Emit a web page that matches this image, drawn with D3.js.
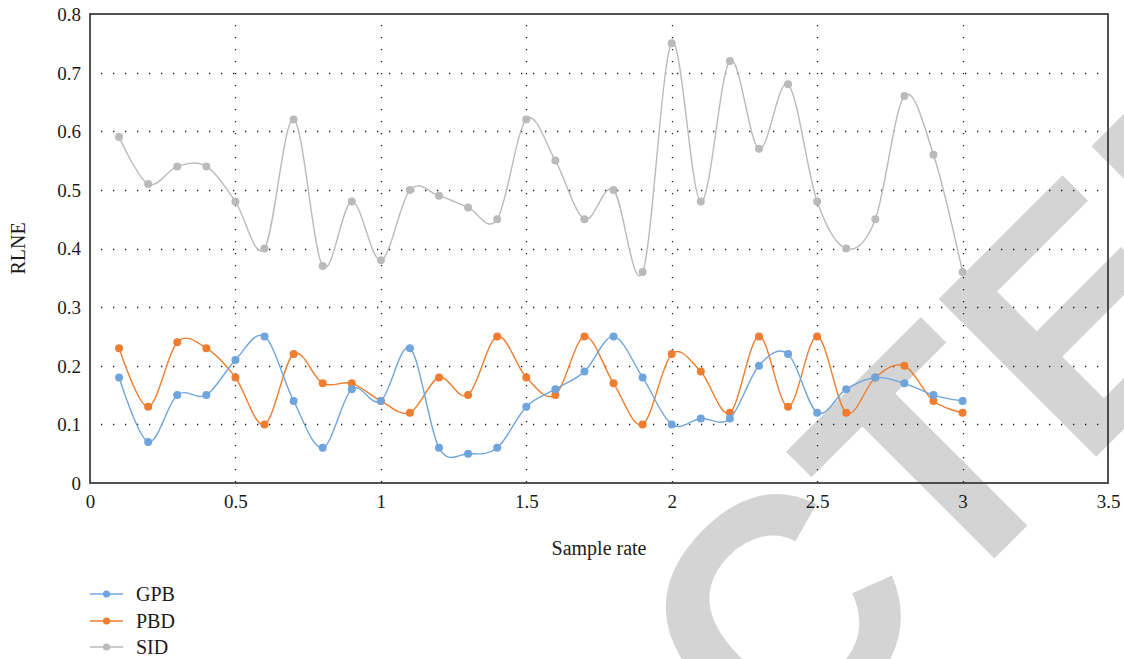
<!DOCTYPE html>
<html>
<head>
<meta charset="utf-8">
<script src="https://cdn.jsdelivr.net/npm/d3@7"></script>
<style>
  html, body { margin: 0; padding: 0; background: #fff; }
  svg { display: block; }
</style>
</head>
<body>
<svg id="chart" width="1124" height="659"></svg>
<script>
// Sample rates (x) and RLNE values for each method
const sampleRates = [0.1, 0.2, 0.3, 0.4, 0.5, 0.6, 0.7, 0.8, 0.9, 1.0,
                     1.1, 1.2, 1.3, 1.4, 1.5, 1.6, 1.7, 1.8, 1.9, 2.0,
                     2.1, 2.2, 2.3, 2.4, 2.5, 2.6, 2.7, 2.8, 2.9, 3.0];
const gpbValues = [0.18, 0.07, 0.15, 0.15, 0.21, 0.25, 0.14, 0.06, 0.16, 0.14,
                   0.23, 0.06, 0.05, 0.06, 0.13, 0.16, 0.19, 0.25, 0.18, 0.10,
                   0.11, 0.11, 0.20, 0.22, 0.12, 0.16, 0.18, 0.17, 0.15, 0.14];
const pbdValues = [0.23, 0.13, 0.24, 0.23, 0.18, 0.10, 0.22, 0.17, 0.17, 0.14,
                   0.12, 0.18, 0.15, 0.25, 0.18, 0.15, 0.25, 0.17, 0.10, 0.22,
                   0.19, 0.12, 0.25, 0.13, 0.25, 0.12, 0.18, 0.20, 0.14, 0.12];
const sidValues = [0.59, 0.51, 0.54, 0.54, 0.48, 0.40, 0.62, 0.37, 0.48, 0.38,
                   0.50, 0.49, 0.47, 0.45, 0.62, 0.55, 0.45, 0.50, 0.36, 0.75,
                   0.48, 0.72, 0.57, 0.68, 0.48, 0.40, 0.45, 0.66, 0.56, 0.36];
const seriesNames = ["GPB", "PBD", "SID"];
const xTicks = [0, 0.5, 1, 1.5, 2, 2.5, 3, 3.5];
const yTicks = [0, 0.1, 0.2, 0.3, 0.4, 0.5, 0.6, 0.7, 0.8];

const colors = { GPB: "#6fa5dc", PBD: "#ee7d2f", SID: "#bababa" };
const seriesValues = { GPB: gpbValues, PBD: pbdValues, SID: sidValues };

const svg = d3.select("#chart");
const W = 1124, H = 659;
const plot = { left: 90, right: 1108, top: 14, bottom: 483 };

const x = d3.scaleLinear().domain([0, 3.5]).range([plot.left, plot.right]);
const y = d3.scaleLinear().domain([0, 0.8]).range([plot.bottom, plot.top]);

svg.append("rect").attr("width", W).attr("height", H).attr("fill", "#fff");

// Diagonal "RETRACTED" stamp behind the chart
const stamp = svg.append("text")
  .attr("font-family", "'Liberation Sans', Arial, sans-serif")
  .attr("font-weight", "bold")
  .attr("font-size", 324)
  .attr("fill", "#d4d4d4")
  .text("RETRACTED");
const lead = stamp.node().getSubStringLength(0, 6);
stamp.attr("x", -lead).attr("transform", "translate(941,612) rotate(-45)");

const serif = "'Liberation Serif', 'Times New Roman', serif";

// Dotted grid
const grid = svg.append("g").attr("stroke", "#1a1a1a").attr("stroke-width", 1.3)
  .attr("stroke-dasharray", "1.3,10.7");
grid.selectAll("line.h").data(yTicks.filter(v => v > 0 && v < 0.8)).join("line")
  .attr("class", "h")
  .attr("x1", plot.left + 11).attr("x2", plot.right)
  .attr("y1", d => Math.round(y(d)) + 0.5).attr("y2", d => Math.round(y(d)) + 0.5);
grid.selectAll("line.v").data(xTicks.filter(v => v > 0 && v < 3.5)).join("line")
  .attr("class", "v")
  .attr("y1", plot.top + 11).attr("y2", plot.bottom)
  .attr("x1", d => Math.round(x(d)) + 0.5).attr("x2", d => Math.round(x(d)) + 0.5);

// Axes via d3 axis generators (lines hidden, labels kept)
const xAxis = svg.append("g")
  .attr("transform", `translate(0,${plot.bottom})`)
  .call(d3.axisBottom(x).tickValues(xTicks).tickSize(0).tickPadding(12)
        .tickFormat(d3.format("")));
const yAxis = svg.append("g")
  .attr("transform", `translate(${plot.left},0)`)
  .call(d3.axisLeft(y).tickValues(yTicks).tickSize(0).tickPadding(9)
        .tickFormat(d3.format("")));
[xAxis, yAxis].forEach(g => {
  g.select(".domain").remove();
  g.selectAll("text").attr("font-family", serif).attr("font-size", 19).attr("fill", "#1a1a1a");
});
yAxis.selectAll("text").attr("dy", "0.34em");

// Plot frame
svg.append("rect")
  .attr("x", plot.left).attr("y", plot.top)
  .attr("width", plot.right - plot.left).attr("height", plot.bottom - plot.top)
  .attr("fill", "none").attr("stroke", "#333").attr("stroke-width", 1.7);

// Smoothed series with markers
const line = d3.line()
  .x((d, i) => x(sampleRates[i]))
  .y(d => y(d))
  .curve(d3.curveCardinal.tension(0));

const seriesG = svg.append("g");
["SID", "PBD", "GPB"].forEach(name => {
  const vals = seriesValues[name];
  const g = seriesG.append("g");
  g.append("path").datum(vals)
    .attr("d", line)
    .attr("fill", "none")
    .attr("stroke", colors[name])
    .attr("stroke-width", 1.4);
  g.selectAll("circle").data(vals).join("circle")
    .attr("cx", (d, i) => x(sampleRates[i]))
    .attr("cy", d => y(d))
    .attr("r", 4)
    .attr("fill", colors[name]);
});

// Axis titles
svg.append("text")
  .attr("x", (plot.left + plot.right) / 2).attr("y", 555)
  .attr("text-anchor", "middle")
  .attr("font-family", serif).attr("font-size", 20).attr("fill", "#1a1a1a")
  .text("Sample rate");
svg.append("text")
  .attr("transform", `translate(25,${(plot.top + plot.bottom) / 2}) rotate(-90)`)
  .attr("text-anchor", "middle")
  .attr("font-family", serif).attr("font-size", 20).attr("fill", "#1a1a1a")
  .text("RLNE");

// Legend
const legend = svg.append("g");
const legendRows = [594, 621, 647];
seriesNames.forEach((name, i) => {
  const ly = legendRows[i];
  legend.append("line")
    .attr("x1", 90).attr("x2", 123).attr("y1", ly).attr("y2", ly)
    .attr("stroke", colors[name]).attr("stroke-width", 1.4);
  legend.append("circle").attr("cx", 106.5).attr("cy", ly).attr("r", 3.6)
    .attr("fill", colors[name]);
  legend.append("text")
    .attr("x", 136).attr("y", ly).attr("dy", "0.34em")
    .attr("font-family", serif).attr("font-size", 20).attr("fill", "#1a1a1a")
    .text(name);
});
</script>
</body>
</html>
